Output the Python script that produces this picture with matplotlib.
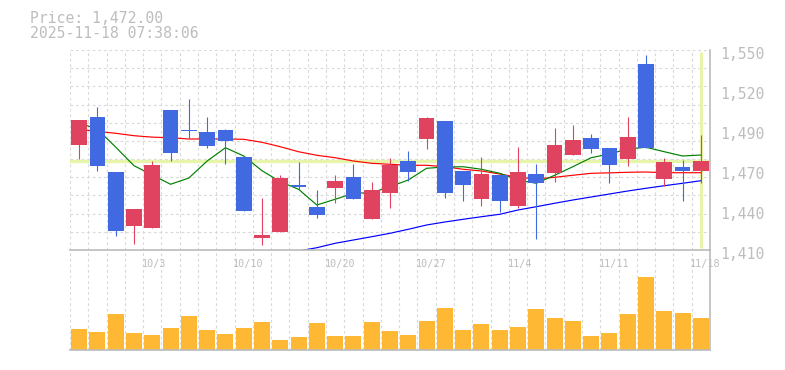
import numpy as np
import matplotlib
matplotlib.use("Agg")
import matplotlib.pyplot as plt
from matplotlib.transforms import ScaledTranslation

# trading days (9/29 - 11/18)
dates = ["9/29", "9/30", "10/1", "10/2", "10/3", "10/6", "10/7", "10/8", "10/9", "10/10",
         "10/14", "10/15", "10/16", "10/17", "10/20", "10/21", "10/22", "10/23", "10/24",
         "10/27", "10/28", "10/29", "10/30", "10/31", "11/4", "11/5", "11/6", "11/7",
         "11/10", "11/11", "11/12", "11/13", "11/14", "11/17", "11/18"]
date_labels = ["10/3", "10/10", "10/20", "10/27", "11/4", "11/11", "11/18"]

opens = [1483.5, 1503, 1464.6, 1427, 1425.6, 1508, 1494, 1492.6, 1494, 1475,
         1418.6, 1422.8, 1455.5, 1440, 1453.4, 1461, 1431.7, 1450, 1472.3, 1487.7,
         1500.3, 1465.3, 1445.7, 1462.5, 1440.8, 1463.2, 1464, 1476.5, 1488.4, 1481.4,
         1473.7, 1540, 1459.7, 1468, 1465.3]
highs = [1501, 1510, 1464.6, 1439, 1472, 1508, 1516, 1503, 1495, 1475,
         1446.6, 1462.5, 1471.8, 1452, 1462.5, 1470, 1457.6, 1474.4, 1479.3, 1503,
         1500.3, 1465.3, 1475, 1462.5, 1482, 1470, 1495.4, 1497.5, 1491, 1481.4,
         1503, 1546.5, 1474.4, 1473, 1490.5]
lows = [1474, 1465.5, 1420, 1414, 1425.6, 1472.5, 1488.6, 1481.6, 1470, 1437.5,
        1413.7, 1422.8, 1452, 1432.6, 1443, 1445.7, 1431.7, 1439.4, 1458.3, 1480.7,
        1446.4, 1444.3, 1440.8, 1436.6, 1439.4, 1417.7, 1457.6, 1476.5, 1478, 1457,
        1468.8, 1481.4, 1454.8, 1444.3, 1457]
closes = [1501, 1469, 1423.5, 1439, 1469.5, 1478, 1493, 1483, 1486.5, 1437.5,
          1420.5, 1460.6, 1454, 1434.7, 1458.3, 1445.7, 1452, 1469.5, 1464.6, 1502.4,
          1450, 1455.5, 1463.2, 1444.3, 1464.6, 1457, 1483.5, 1487, 1480.7, 1469.5,
          1489.1, 1481.4, 1471.6, 1465.3, 1472]

# moving averages
ma_short = [1499, 1494.5, 1482, 1469, 1462.5, 1456, 1460.4, 1472.3, 1481.6, 1475.8,
            1465.5, 1457.8, 1452.5, 1441.5, 1445.5, 1449.7, 1450.1, 1454.3, 1459, 1467.2,
            1468.1, 1468.3, 1466.5, 1463.7, 1459, 1456.7, 1462.3, 1468.3, 1474.6, 1477.2,
            1480.7, 1481.9, 1478.8, 1475.8, 1476.5]
ma_mid = [1494.5, 1493, 1491.7, 1490, 1489, 1488.6, 1487.7, 1487.7, 1487.7, 1487.5,
          1485.4, 1482.3, 1478.8, 1476.3, 1474.6, 1472.3, 1470.7, 1470, 1469.3, 1469.3,
          1468.3, 1466.5, 1465.3, 1463.2, 1460.9, 1459.7, 1460.9, 1462.3, 1463.7, 1464,
          1464.4, 1464.6, 1464.1, 1464.1, 1464.1]
ma_long = [np.nan] * 12 + [1409.3, 1411.6, 1414.7, 1417, 1419.3, 1421.7, 1424.5, 1427.5,
                           1429.6, 1431.5, 1433.3, 1435, 1438, 1440.3, 1442.7, 1445,
                           1447.1, 1449.2, 1451.3, 1453.2, 1455, 1456.7, 1458.5]

# volume (thousand shares)
volumes = [21, 18, 36, 17, 15, 22, 34, 20, 16, 22, 28, 10, 13, 27, 14, 14, 28, 19, 15,
           29, 42, 20, 26, 20, 23, 41, 32, 29, 14, 17, 36, 73, 39, 37, 32]

price_now = 1472.00
stamp = "2025-11-18 07:38:06"

UP = "#e0435f"
DOWN = "#4169e1"
VOL = "#ffb833"
HL = "#e6f5aa"
GRID = "#d9d9d9"
AXIS = "#bbbbbb"
TXT = "#bdbdbd"
MONO = "DejaVu Sans Mono"

W, H = 785, 370
fig = plt.figure(figsize=(W / 100, H / 100), dpi=100)


def px_axes(l, t, r, b):
    return fig.add_axes([l / W, 1 - b / H, (r - l) / W, (b - t) / H])


n = len(dates)
x = np.arange(n) + 0.5
ymin, ymax = 1410, 1550

ax = px_axes(70, 50, 710, 250)
ax.set_xlim(0, n)
ax.set_ylim(ymin, ymax)

# grid
dash = (0, (2.5, 2.5))
ax.vlines(np.arange(n), ymin, ymax, colors=GRID, linestyles=dash, lw=0.8, zorder=0)
ax.hlines(np.linspace(ymin, ymax, 12)[1:], 0, n, colors=GRID, linestyles=dash, lw=0.8, zorder=0)

# current price highlight
ax.axhline(price_now, color=HL, lw=2.4, zorder=1)
ax.vlines(x[-1], ymin + 1.5, ymax - 1.5, colors=HL, lw=2.2, zorder=1)

# moving averages
ax.plot(x, ma_mid, color="#ff0000", lw=0.85, zorder=2)
ax.plot(x, ma_short, color="#008000", lw=0.85, zorder=2)
ax.plot(x, ma_long, color="#0000ff", lw=0.85, zorder=2)

# candles
o = np.array(opens)
c = np.array(closes)
colors = [UP if cc >= oo else DOWN for oo, cc in zip(o, c)]
ax.vlines(x, lows, highs, colors=colors, lw=0.8, zorder=3)
bottoms = np.minimum(o, c)
heights = np.maximum(np.abs(c - o), 1.0)
ax.bar(x, heights, bottom=bottoms, width=0.86, color=colors, zorder=4)

for side in ["top", "left"]:
    ax.spines[side].set_visible(False)
for side in ["bottom", "right"]:
    ax.spines[side].set_color(AXIS)
    ax.spines[side].set_linewidth(1.2)
ax.set_xticks([])
ticks = np.linspace(ymin, ymax, 6)
ax.yaxis.tick_right()
ax.set_yticks(ticks)
ax.set_yticklabels([f"{int(round(t, -1)):,}" for t in ticks], family=MONO, fontsize=10.6, color=TXT)
ax.tick_params(axis="y", length=0, pad=7)
for lab in ax.get_yticklabels():
    lab.set_transform(lab.get_transform() + ScaledTranslation(0, -3 / 100, fig.dpi_scale_trans))

# volume panel
vax = px_axes(70, 250, 710, 350)
vax.set_xlim(0, n)
vax.set_ylim(0, 100)
vax.vlines(np.arange(n), 0, 100, colors=GRID, linestyles=dash, lw=0.8, zorder=0)
vax.bar(x, volumes, width=0.875, color=VOL, zorder=2)
for side in ["top", "left"]:
    vax.spines[side].set_visible(False)
for side in ["bottom", "right"]:
    vax.spines[side].set_color(AXIS)
    vax.spines[side].set_linewidth(1.2)
vax.set_xticks([])
vax.set_yticks([])
vax.patch.set_alpha(0)

for lab in date_labels:
    i = dates.index(lab)
    vax.text(i - 0.08, 1 - 16.7 / 100, lab, transform=vax.get_xaxis_transform(),
             ha="left", va="baseline", family=MONO, fontsize=7.3, color=TXT, zorder=5)

fig.text(30 / W, 1 - 23.3 / H, f"Price: {price_now:,.2f}", family=MONO, fontsize=10.6,
         color=TXT, va="baseline", ha="left")
fig.text(30 / W, 1 - 37.7 / H, stamp, family=MONO, fontsize=10.6,
         color=TXT, va="baseline", ha="left")

fig.savefig("out.png", dpi=100)
